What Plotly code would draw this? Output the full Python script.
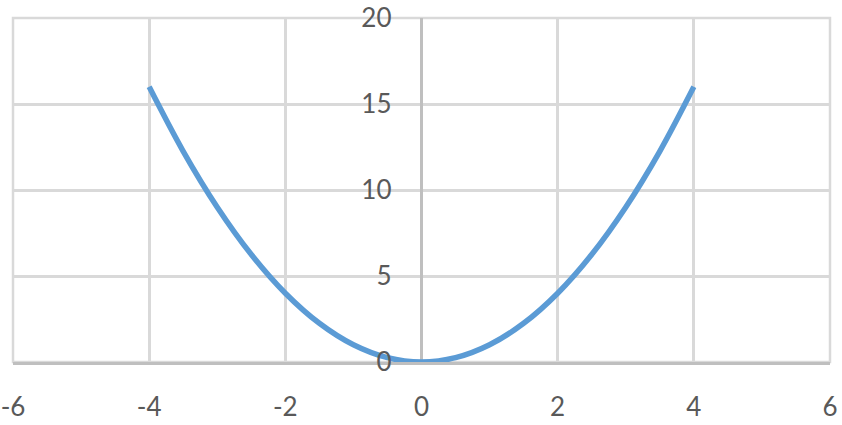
import plotly.graph_objects as go

# points
x_vals = [-4, -3.5, -3, -2.5, -2, -1.5, -1, -0.5, 0, 0.5, 1, 1.5, 2, 2.5, 3, 3.5, 4]
y_vals = [16, 12.25, 9, 6.25, 4, 2.25, 1, 0.25, 0, 0.25, 1, 2.25, 4, 6.25, 9, 12.25, 16]

x_ticks = [-6, -4, -2, 0, 2, 4, 6]
x_labels = ["-6", "-4", "-2", "0", "2", "4", "6"]
y_ticks = [0, 5, 10, 15, 20]
y_labels = ["0", "5", "10", "15", "20"]

font = dict(family="Lato, Open Sans, sans-serif", size=26, color="#595959")
grid = "#d9d9d9"
axis = "#bfbfbf"

fig = go.Figure(
    go.Scatter(
        x=x_vals,
        y=y_vals,
        mode="lines",
        line=dict(color="#5b9bd5", width=5.5, shape="spline"),
        showlegend=False,
        cliponaxis=False,
    )
)

fig.update_layout(
    width=842,
    height=425,
    margin=dict(l=13, r=12, t=18, b=63),
    plot_bgcolor="white",
    paper_bgcolor="white",
    font=font,
    xaxis=dict(
        range=[-6, 6],
        tickvals=x_ticks,
        ticktext=x_labels,
        showgrid=True,
        gridcolor=grid,
        gridwidth=2.5,
        zeroline=True,
        zerolinecolor=axis,
        zerolinewidth=2.5,
        showline=True,
        linecolor=axis,
        linewidth=2.5,
        ticks="",
        ticklabelstandoff=20,
        automargin=False,
    ),
    yaxis=dict(
        range=[0, 20],
        tickvals=y_ticks,
        ticktext=y_labels,
        showgrid=True,
        gridcolor=grid,
        gridwidth=2.5,
        zeroline=True,
        zerolinecolor=axis,
        zerolinewidth=2.5,
        anchor="free",
        position=0.5,
        ticks="",
        ticklabelstandoff=30,
        automargin=False,
    ),
    # outer frame of the plot area (edge gridlines)
    shapes=[
        dict(type="rect", xref="paper", yref="paper", x0=0, x1=1, y0=0, y1=1,
             line=dict(color=grid, width=2.5), layer="below")
    ],
)

fig.write_html(
    "out.html",
    config={"displayModeBar": False},
    post_script="document.body.style.margin='0';",
)
